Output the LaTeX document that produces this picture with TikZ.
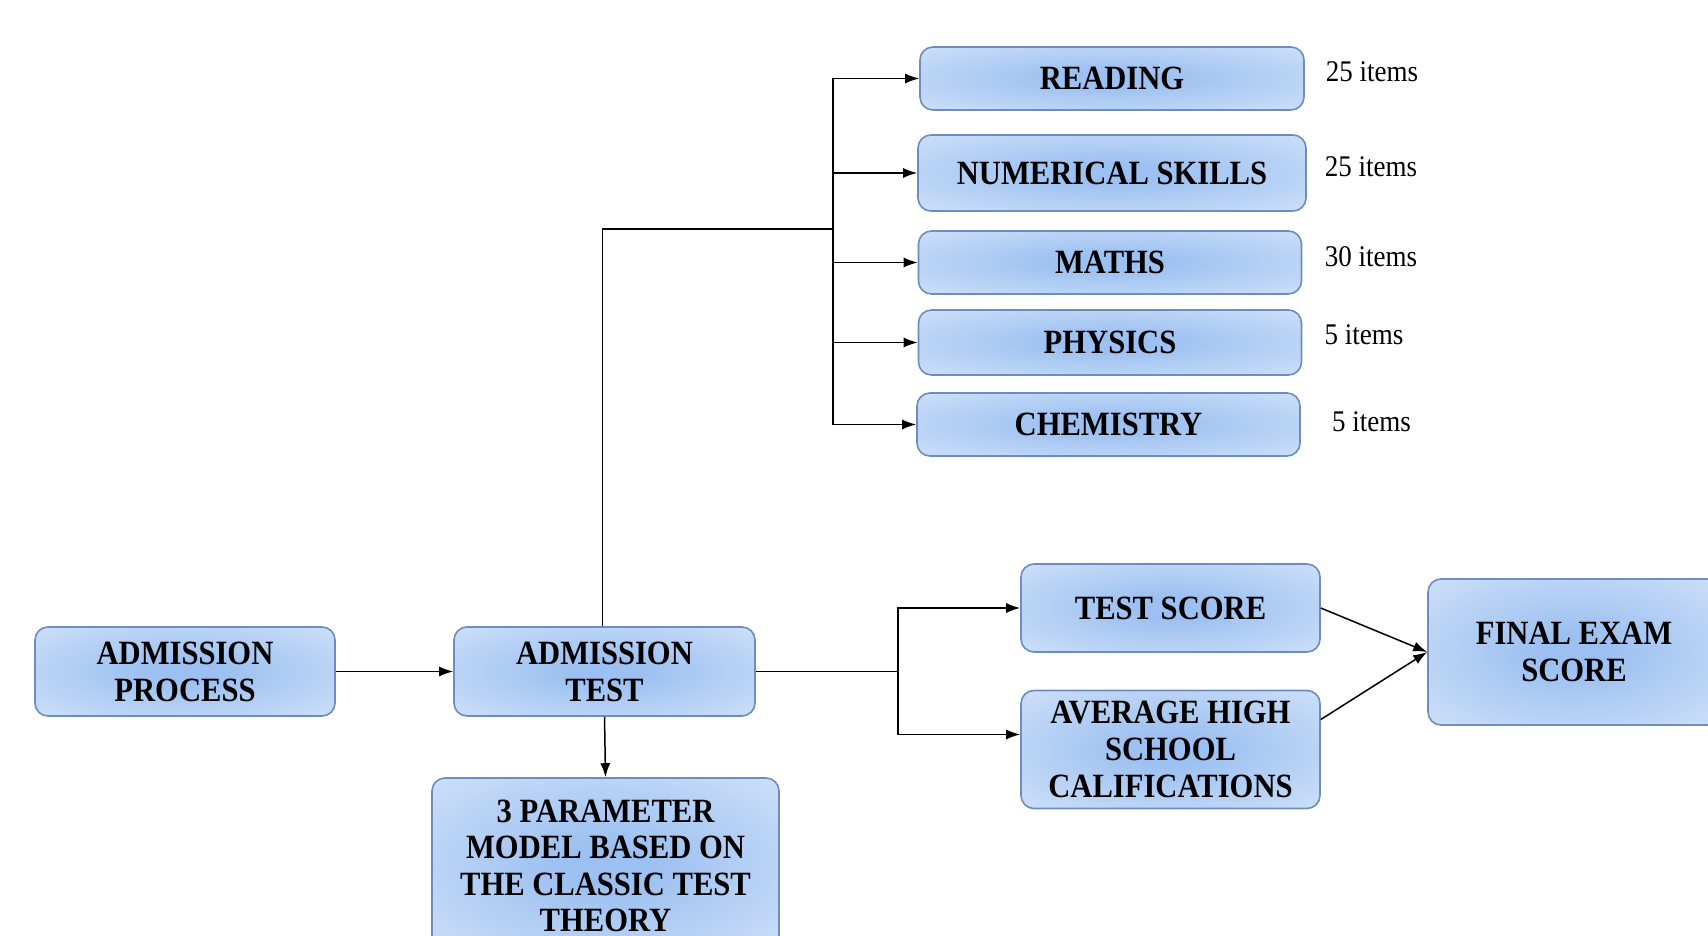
\documentclass[tikz,border=0pt]{standalone}
\usepackage{fontspec}
\setmainfont{Liberation Serif}[FakeStretch=0.9]
\usetikzlibrary{arrows.meta,calc}
\definecolor{inC}{RGB}{156,192,241}
\definecolor{outC}{RGB}{226,237,251}
\definecolor{bordC}{RGB}{110,140,190}
\pgfdeclareradialshading{boxshade}{\pgfpoint{0bp}{0bp}}{color(0bp)=(inC); color(6bp)=(inC); color(48bp)=(outC); color(75bp)=(outC)}
\tikzset{
  box/.style={draw=bordC, line width=1.6pt, rounded corners=13pt, shading=boxshade,
    align=center, inner sep=0pt, font=\fontsize{34}{37}\selectfont\bfseries},
  conn/.style={line width=1.5pt, black},
  arr/.style={conn, -{Latex[length=14pt,width=10pt]}},
  lbl/.style={font=\fontsize{30}{34}\selectfont, inner sep=0pt}
}
\begin{document}
\begin{tikzpicture}[x=1pt,y=-1pt]
\clip (0,0) rectangle (1708,936);
\fill[white] (0,0) rectangle (1708,936);
% subject boxes
\node[box, minimum width=384pt, minimum height=63pt] (read) at (1112,78.5) {READING};
\node[box, minimum width=388pt, minimum height=76pt] (num) at (1112,173) {NUMERICAL SKILLS};
\node[box, minimum width=383pt, minimum height=63pt] (math) at (1110,262.5) {MATHS};
\node[box, minimum width=383pt, minimum height=65pt] (phys) at (1110,342.5) {PHYSICS};
\node[box, minimum width=383pt, minimum height=63pt] (chem) at (1108.5,424.5) {CHEMISTRY};
% item labels
\node[lbl] (l1) at (1372,72) {25 items};
\node[lbl] (l2) at (1371,167) {25 items};
\node[lbl] (l3) at (1371,257) {30 items};
\node[lbl] (l4) at (1364,335) {5 items};
\node[lbl] (l5) at (1371.5,422) {5 items};
% main flow
\node[box, minimum width=300pt, minimum height=89pt] (ap) at (185,671.5) {ADMISSION\\PROCESS};
\node[box, minimum width=301pt, minimum height=89pt] (at) at (604.5,671.5) {ADMISSION\\TEST};
\node[box, minimum width=347pt, minimum height=176pt, font=\fontsize{34}{36.5}\selectfont\bfseries] (param) at (605.5,866) {3 PARAMETER\\MODEL BASED ON\\THE CLASSIC TEST\\THEORY};
\node[box, minimum width=299pt, minimum height=88pt] (ts) at (1170.5,608) {TEST SCORE};
\node[box, minimum width=299pt, minimum height=118pt] (avg) at (1170.5,749.5) {AVERAGE HIGH\\SCHOOL\\CALIFICATIONS};
\node[box, minimum width=292pt, minimum height=146pt] (final) at (1574,652) {FINAL EXAM\\SCORE};
% junctions
\coordinate (j1) at (833,229);
\coordinate (j2) at (898,671.5);
\coordinate (avgin) at ($(avg.west)+(0,-15)$);
\coordinate (avgout) at ($(avg.east)+(0,-30)$);
% connectors
\draw[arr] (ap.east) -- (at.west);
\draw[conn] ($(at.north)+(-2,0)$) |- (j1);
\draw[arr] (j1) |- (read.west);
\draw[arr] (j1) |- (num.west);
\draw[arr] (j1) |- (math.west);
\draw[arr] (j1) |- (phys.west);
\draw[arr] (j1) |- (chem.west);
\draw[arr] (at.south) -- (param.north);
\draw[conn] (at.east) -- (j2);
\draw[arr] (j2) |- (ts.west);
\draw[arr] (j2) |- (avgin);
\draw[arr] (ts.east) -- (final.west);
\draw[arr] (avgout) -- (final.west);
\end{tikzpicture}
\end{document}
